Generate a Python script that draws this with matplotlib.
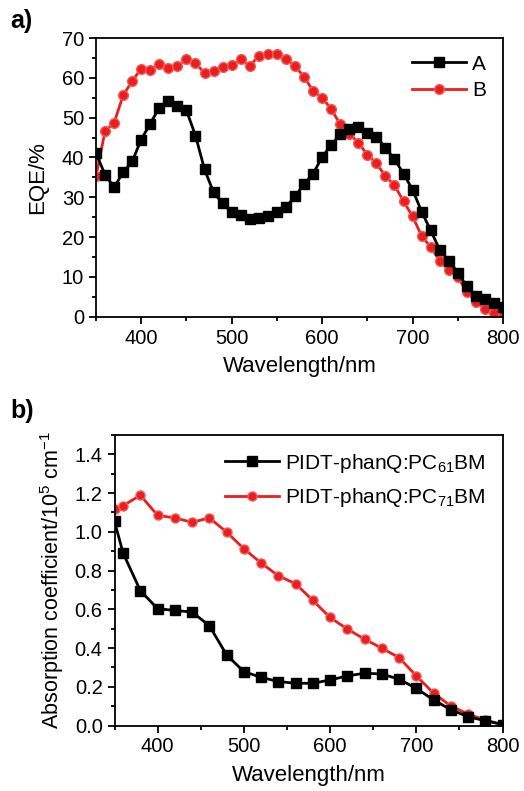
import numpy as np
import matplotlib
matplotlib.use("Agg")
import matplotlib.pyplot as plt
from matplotlib.ticker import MultipleLocator

plt.rcParams['font.family'] = ['Liberation Sans', 'DejaVu Sans']
plt.rcParams['mathtext.default'] = 'regular'

# panel a: EQE, one point every 10 nm
wl_eqe = list(range(350, 801, 10))
eqe_A = [41.0, 35.7, 32.5, 36.3, 39.0, 44.5, 48.5, 52.5, 54.1, 53.0,
         51.8, 45.5, 37.0, 31.2, 28.5, 26.2, 25.6, 24.5, 24.8, 25.4,
         26.2, 27.5, 30.2, 33.3, 35.9, 40.1, 43.1, 45.8, 47.2, 47.7,
         46.2, 45.2, 42.4, 39.6, 35.9, 31.9, 26.4, 21.7, 16.8, 14.1,
         11.1, 7.6, 5.2, 4.4, 3.4, 2.5]
eqe_B = [35.3, 46.6, 48.7, 55.6, 59.2, 62.3, 62.0, 63.4, 62.5, 63.0,
         64.6, 63.8, 61.1, 61.7, 62.8, 63.1, 64.6, 63.0, 65.5, 66.1,
         65.9, 64.8, 62.9, 60.3, 56.7, 55.0, 52.2, 48.3, 46.0, 43.7,
         40.7, 38.5, 35.3, 33.0, 29.0, 25.2, 20.3, 17.5, 14.1, 11.8,
         9.9, 6.3, 3.8, 1.9, 0.9, 0.4]

# panel b: absorption coefficient (1e5 cm^-1)
wl_abs = [350, 360] + list(range(380, 801, 20))
abs_61 = [1.054, 0.89, 0.696, 0.603, 0.594, 0.586, 0.515, 0.365, 0.278,
          0.249, 0.227, 0.218, 0.218, 0.235, 0.256, 0.27, 0.266, 0.239,
          0.192, 0.132, 0.082, 0.045, 0.025, 0.005]
abs_71 = [1.118, 1.135, 1.189, 1.085, 1.072, 1.049, 1.072, 0.999, 0.913,
          0.839, 0.773, 0.732, 0.646, 0.558, 0.498, 0.446, 0.399, 0.351,
          0.256, 0.167, 0.101, 0.059, 0.028, 0.005]

labels_a = ['A', 'B']
labels_b = ['PIDT-phanQ:PC$_{61}$BM', 'PIDT-phanQ:PC$_{71}$BM']

red = '#ec1d1d'

fig = plt.figure(figsize=(5.24, 7.91), dpi=100)
axa = fig.add_axes([96/524, 1-316.7/791, 407/524, (316.7-38)/791])
axb = fig.add_axes([114.5/524, 1-725.5/791, 388/524, (725.5-435)/791])


def style(ax):
    for s in ax.spines.values():
        s.set_linewidth(1.3)
    ax.tick_params(which='major', direction='out', length=5, width=1.3,
                   labelsize=14.5, top=False, right=False)
    ax.tick_params(which='minor', direction='out', length=3, width=1.3,
                   top=False, right=False)
    ax.xaxis.set_major_locator(MultipleLocator(100))
    ax.xaxis.set_minor_locator(MultipleLocator(50))
    ax.set_xlim(350, 800)
    ax.set_xlabel('Wavelength/nm', fontsize=16, labelpad=6)


# a) EQE
axa.plot(wl_eqe, eqe_A, '-s', color='black', lw=2, ms=6.5, label=labels_a[0], zorder=3)
axa.plot(wl_eqe, eqe_B, '-o', color=red, lw=2, ms=7, mfc=red, mec='#f25a5a',
         label=labels_a[1], zorder=2)
style(axa)
axa.set_ylim(0, 70)
axa.yaxis.set_major_locator(MultipleLocator(10))
axa.yaxis.set_minor_locator(MultipleLocator(5))
axa.set_ylabel('EQE/%', fontsize=16, labelpad=10)
axa.legend(loc='upper right', frameon=False, fontsize=15, numpoints=1,
           handlelength=2.6, handletextpad=0.3, labelspacing=0.35,
           borderaxespad=0.4)

# b) absorption
axb.plot(wl_abs, abs_61, '-s', color='black', lw=2, ms=7, label=labels_b[0], zorder=3)
axb.plot(wl_abs, abs_71, '-o', color=red, lw=2, ms=6.5, mfc=red, mec='#f25a5a',
         label=labels_b[1], zorder=2)
style(axb)
axb.set_ylim(0, 1.5)
axb.yaxis.set_major_locator(MultipleLocator(0.2))
axb.yaxis.set_minor_locator(MultipleLocator(0.1))
axb.yaxis.set_major_formatter(matplotlib.ticker.FormatStrFormatter('%.1f'))
axb.set_ylabel('Absorption coefficient/10$^5$ cm$^{-1}$', fontsize=15.5, labelpad=6)
axb.legend(loc='upper right', frameon=False, fontsize=15, numpoints=1,
           handlelength=2.6, handletextpad=0.3, labelspacing=0.55,
           borderaxespad=0.4)

fig.text(10/524, 1-28/791, 'a)', fontsize=18, fontweight='bold')
fig.text(10/524, 1-418/791, 'b)', fontsize=18, fontweight='bold')

fig.savefig('out.png', dpi=100)
